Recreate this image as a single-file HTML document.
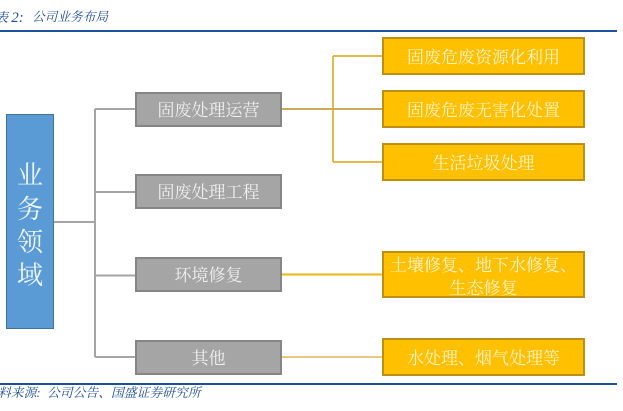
<!DOCTYPE html>
<html><head><meta charset="utf-8"><style>
html,body{margin:0;padding:0;background:#fff}
#c{position:relative;width:623px;height:411px;overflow:hidden;background:#fff;font-family:"Liberation Serif","Noto Serif CJK SC",serif}
.l{position:absolute}
.b{position:absolute;box-sizing:border-box;display:flex;align-items:center;justify-content:center;text-align:center;color:#fff;font-size:17px;line-height:23px;padding-top:2px}
.g{left:135px;width:147px;height:35px;background:#a5a5a5;border:2px solid #858585;color:#f0f0f0}
.y{left:382px;width:203px;background:#ffc000;border:2px solid #bd9014;color:#fff3c8;padding-top:3px}
.t{position:absolute;font-style:italic;color:#1f4e8c;white-space:nowrap}
</style></head><body><div id="c">
<div class="t" style="left:-5px;top:9px;font-size:13px;line-height:17px">表 <span style="font-size:15px">2:</span></div>
<div class="t" style="left:32px;top:9px;font-size:12.7px;line-height:17px">公司业务布局</div>
<div class="l" style="left:0;top:30px;width:617px;height:2px;background:#1d4f9f"></div>
<svg class="l" style="left:0;top:0" width="623" height="411" fill="none">
<path d="M54 222H95M95 109V357M95 109H136M95 192H136M95 275.500H136M95 357H136" stroke="#a5a5a5" stroke-width="2"/>
<path d="M282 109H382M333 56V162M333 56H382M333 162H382" stroke="#e3b84c" stroke-width="2"/>
<path d="M282 109H382" stroke="#c8ab5a" stroke-width="2"/>
<path d="M282 274.500H382" stroke="#eeb60f" stroke-width="2"/>
<path d="M282 357H382" stroke="#e8c983" stroke-width="2"/>
</svg>
<div class="b" style="left:6px;top:114px;width:48px;height:215px;background:#5b9bd5;border:1px solid #41719c;color:#eef5fb;font-size:26px;line-height:33.300px;padding:9px 10px 0">业务领域</div>
<div class="b g" style="top:92px">固废处理运营</div>
<div class="b g" style="top:174px">固废处理工程</div>
<div class="b g" style="top:257px">环境修复</div>
<div class="b g" style="top:340px">其他</div>
<div class="b y" style="top:37px;height:38px">固废危废资源化利用</div>
<div class="b y" style="top:90px;height:38px">固废危废无害化处置</div>
<div class="b y" style="top:143px;height:38px">生活垃圾处理</div>
<div class="b y" style="top:251px;height:47px;padding-top:4px">土壤修复、地下水修复、<br>生态修复</div>
<div class="b y" style="top:338px;height:38px">水处理、烟气处理等</div>
<div class="l" style="left:0;top:383px;width:617px;height:2px;background:#1d4f9f"></div>
<div class="t" style="left:-2px;top:385px;font-size:12.800px;line-height:17px">料来源:</div>
<div class="t" style="left:47px;top:385px;font-size:12.800px;line-height:17px">公司公告、国盛证券研究所</div>
</div></body></html>
